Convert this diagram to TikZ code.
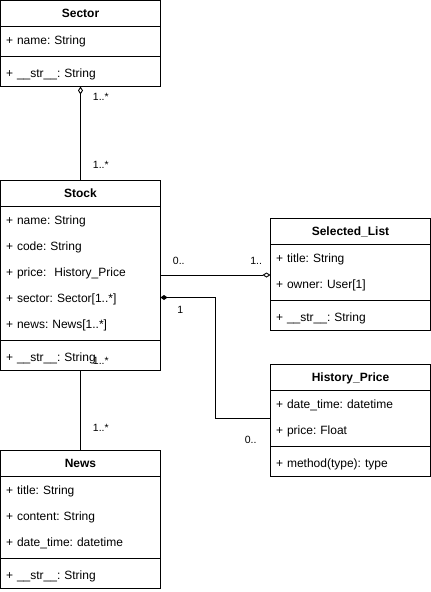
\documentclass[tikz,border=0pt]{standalone}
\usepackage{fontspec}
\setmainfont{Liberation Sans}
\usetikzlibrary{positioning, arrows.meta}
\frenchspacing
\newcommand{\crow}[1]{\rule[-10.2pt]{0pt}{26pt}#1}

\begin{document}
\begin{tikzpicture}[x=1pt, y=-1pt, node distance=0pt, line width=0.9pt]
    \tikzstyle{classhead} = [rectangle, draw, minimum width=160pt, minimum height=26pt,
        inner sep=0pt, outer sep=0pt, text height=8.6pt, text depth=0pt,
        font=\fontsize{12}{14}\selectfont\bfseries]
    \tikzstyle{classattr} = [rectangle, draw, text width=149pt, inner xsep=5.5pt, inner ysep=2pt,
        outer sep=0pt, align=left, font=\fontsize{12}{26}\selectfont]
    \tikzstyle{classmeth} = [rectangle, draw, text width=149pt, inner xsep=5.5pt, inner ysep=2pt,
        outer sep=0pt, align=left, text height=19.3pt, text depth=6.7pt, font=\fontsize{12}{14}\selectfont]
    \tikzstyle{aggr} = [draw, -{Diamond[open, length=8pt, width=5pt]}]
    \tikzstyle{comp} = [draw, -{Diamond[length=7pt, width=5pt]}]
    \tikzstyle{mult} = [inner sep=0pt, anchor=base west, font=\fontsize{10.5}{12}\selectfont]

    \useasboundingbox (0,0) rectangle (431,592);

    \node [classhead, anchor=north west] (sector) at (0.5,0.5) {Sector};
    \node [classattr, below=of sector] (sector-attr) {\crow{+ name: String}};
    \node [classmeth, below=of sector-attr] (sector-meth) {+ \_\_str\_\_: String};

    \node [classhead, below=94pt of sector-meth] (stock) {Stock};
    \node [classattr, below=of stock] (stock-attr) {\crow{+ name: String}\\\crow{+ code: String}\\
        \crow{+ price: \ History\_Price}\\\crow{+ sector: Sector[1..*]}\\\crow{+ news: News[1..*]}};
    \node [classmeth, below=of stock-attr] (stock-meth) {+ \_\_str\_\_: String};

    \node [classhead, below=80pt of stock-meth] (news) {News};
    \node [classattr, below=of news] (news-attr) {\crow{+ title: String}\\\crow{+ content: String}\\
        \crow{+ date\_time: datetime}};
    \node [classmeth, below=of news-attr] (news-meth) {+ \_\_str\_\_: String};

    \node [classhead, anchor=north west] (list) at (270.5,218.5) {Selected\_List};
    \node [classattr, below=of list] (list-attr) {\crow{+ title: String}\\\crow{+ owner: User[1]}};
    \node [classmeth, below=of list-attr] (list-meth) {+ \_\_str\_\_: String};

    \node [classhead, below=34pt of list-meth] (history) {History\_Price};
    \node [classattr, below=of history] (history-attr) {\crow{+ date\_time: datetime}\\\crow{+ price: Float}};
    \node [classmeth, below=of history-attr] (history-meth) {+ method(type): type};

    \coordinate (stock-list) at ([yshift=-1.5pt]stock-attr.east);
    \coordinate (stock-sector) at ([yshift=-24pt]stock-attr.east);

    \path [aggr] (stock.north) -- node [mult, pos=0, xshift=12pt, yshift=12.5pt] {1..*}
        node [mult, pos=1, xshift=12pt, yshift=-14pt] {1..*} (sector-meth.south);
    \path [draw] (stock-meth.south) -- node [mult, pos=0, xshift=12pt, yshift=6pt] {1..*}
        node [mult, pos=1, xshift=12pt, yshift=19.5pt] {1..*} (news.north);
    \path [aggr] (stock-list) -- node [mult, pos=0, xshift=12pt, yshift=10.5pt] {0..}
        node [mult, pos=1, anchor=base east, xshift=-8pt, yshift=10.5pt] {1..} (stock-list -| list-attr.west);
    \path [comp] (history-attr.west) -- node [mult, pos=0, anchor=base east, xshift=-13.5pt, yshift=-24.5pt] {0..}
        ++(-55,0) |- node [mult, pos=1, xshift=16.5pt, yshift=-15.5pt] {1} (stock-sector);
\end{tikzpicture}
\end{document}
